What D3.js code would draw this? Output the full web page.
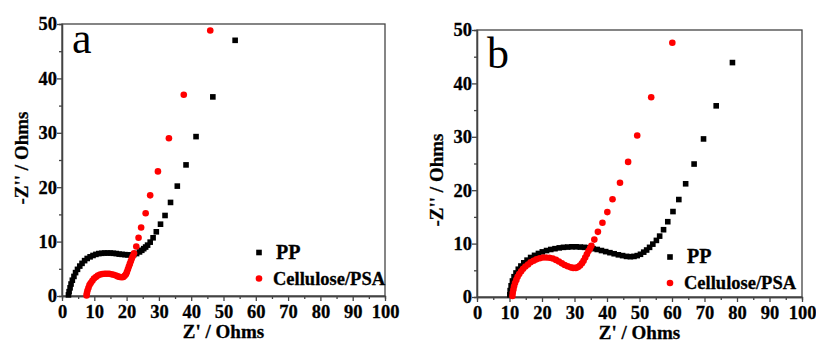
<!DOCTYPE html>
<html lang="en">
<head>
  <meta charset="UTF-8">
  <title>Nyquist plots</title>
  <style>
    html,
    body {
      margin: 0;
      background: #fff;
    }

    svg text {
      font-family: "Liberation Serif", "Times New Roman", serif;
    }

    svg text.b,
    .tick text {
      font-weight: bold;
      fill: #000;
      stroke: #000;
      stroke-width: 0.3px;
    }

    .tick text {
      font-size: 18.5px;
    }

    .axis path,
    .axis line {
      stroke: #444;
      stroke-width: 1.3px;
    }
  </style>
</head>
<body>
  <svg id="chart" width="816" height="342"></svg>

  <script src="https://cdn.jsdelivr.net/npm/d3@7/dist/d3.min.js"></script>
  <script>
    // data: [Z', -Z'']
    const ppA = [[2.0, 0.2], [2.2, 0.8], [2.5, 1.5], [2.8, 2.2], [3.2, 2.9], [3.7, 3.6], [4.2, 4.3], [4.8, 4.9],
      [5.5, 5.5], [6.2, 6.0], [7.0, 6.5], [7.8, 6.9], [8.7, 7.2], [9.6, 7.45], [10.5, 7.65], [11.4, 7.8],
      [12.3, 7.85], [13.2, 7.9], [14.1, 7.9], [15.0, 7.9], [15.9, 7.85], [16.8, 7.8], [17.7, 7.7], [18.6, 7.65],
      [19.5, 7.6], [20.4, 7.55], [21.3, 7.55], [22.2, 7.6], [23.1, 7.8], [24.0, 8.1], [24.7, 8.4], [25.3, 8.7],
      [25.9, 9.0], [26.5, 9.35], [27.3, 9.9], [28.2, 10.7], [29.2, 11.8], [30.5, 13.2], [31.9, 14.8], [33.6, 17.2],
      [35.7, 20.2], [38.4, 24.1], [41.5, 29.3], [46.7, 36.6], [53.6, 47.0]]

    const cellA = [[7.6, 0.1], [7.7, 0.5], [7.9, 1.0], [8.2, 1.5], [8.5, 2.0], [8.9, 2.4], [9.4, 2.8], [9.9, 3.2],
      [10.5, 3.5], [11.1, 3.75], [11.8, 3.95], [12.5, 4.05], [13.2, 4.1], [13.9, 4.1], [14.6, 4.1], [15.3, 4.0],
      [16.0, 3.9], [16.7, 3.75], [17.3, 3.6], [17.9, 3.5], [18.5, 3.45], [19.0, 3.5], [19.4, 3.7], [19.8, 4.0],
      [20.1, 4.4], [20.4, 4.9], [20.7, 5.4], [21.0, 5.9], [21.3, 6.4], [21.6, 6.9], [21.9, 7.3], [22.3, 7.85],
      [23.0, 9.1], [23.7, 10.7], [24.5, 12.6], [25.9, 15.2], [27.3, 18.5], [29.7, 22.9], [33.1, 29.0],
      [37.7, 37.0], [45.9, 48.8]]

    const ppB = [[10.1, 0.4], [10.2, 1.2], [10.5, 2.1], [10.9, 3.0], [11.4, 3.8], [12.0, 4.5], [12.7, 5.2],
      [13.5, 5.8], [14.4, 6.4], [15.4, 6.9], [16.5, 7.4], [17.7, 7.8], [18.9, 8.15], [20.1, 8.45], [21.4, 8.7],
      [22.7, 8.9], [24.0, 9.05], [25.3, 9.2], [26.6, 9.3], [27.9, 9.35], [29.2, 9.4], [30.5, 9.4], [31.8, 9.35],
      [33.1, 9.3], [34.4, 9.2], [35.7, 9.05], [37.0, 8.9], [38.3, 8.7], [39.6, 8.5], [40.9, 8.3], [42.2, 8.1],
      [43.5, 7.9], [44.8, 7.75], [46.0, 7.6], [47.2, 7.55], [48.3, 7.6], [49.3, 7.75], [50.3, 8.0], [51.3, 8.4],
      [52.2, 8.8], [53.1, 9.3], [54.1, 9.9], [55.2, 10.6], [56.2, 11.4], [57.4, 12.6], [58.7, 14.1], [60.3, 16.0],
      [62.1, 18.25], [64.2, 21.2], [66.8, 24.9], [69.7, 29.6], [73.6, 35.8], [78.6, 43.9]]

    const cellB = [[10.9, 0.2], [11.0, 0.8], [11.2, 1.4], [11.4, 2.0], [11.7, 2.6], [12.1, 3.2], [12.5, 3.8],
      [13.0, 4.3], [13.6, 4.8], [14.2, 5.3], [14.9, 5.7], [15.7, 6.1], [16.5, 6.5], [17.4, 6.8], [18.3, 7.05],
      [19.3, 7.25], [20.3, 7.4], [21.3, 7.4], [22.3, 7.35], [23.3, 7.2], [24.3, 6.95], [25.2, 6.65], [26.1, 6.3],
      [27.0, 6.0], [27.9, 5.75], [28.8, 5.55], [29.6, 5.45], [30.4, 5.45], [31.1, 5.6], [31.7, 5.9], [32.3, 6.3],
      [32.8, 6.8], [33.3, 7.4], [33.8, 8.0], [34.3, 8.6], [34.8, 9.1], [35.2, 9.6], [36.1, 10.75], [37.2, 12.2],
      [38.6, 13.9], [40.1, 15.9], [41.7, 18.3], [44.0, 21.4], [46.5, 25.3], [49.3, 30.25], [53.6, 37.4],
      [60.1, 47.6]]

    const xTicks = [0, 10, 20, 30, 40, 50, 60, 70, 80, 90, 100]
    const yTicks = [0, 10, 20, 30, 40, 50]
    const seriesNames = ['PP', 'Cellulose/PSA']

    const svg = d3.select('#chart')

    function drawPanel(p) {
      const x = d3.scaleLinear().domain([0, 100]).range([p.x0, p.x1])
      const y = d3.scaleLinear().domain([0, 50]).range([p.y0, p.y1])

      // minor ticks first
      svg.append('g').attr('class', 'axis')
        .attr('transform', `translate(0,${p.y0})`)
        .call(d3.axisBottom(x).tickValues(d3.range(5, 100, 10)).tickSize(3).tickFormat(''))
      svg.append('g').attr('class', 'axis')
        .attr('transform', `translate(${p.x0},0)`)
        .call(d3.axisLeft(y).tickValues(d3.range(5, 50, 10)).tickSize(3).tickFormat(''))

      const xa = svg.append('g').attr('class', 'axis')
        .attr('transform', `translate(0,${p.y0})`)
        .call(d3.axisBottom(x).tickValues(xTicks).tickSize(5).tickSizeOuter(0))
      xa.selectAll('text').attr('dy', '0.71em').attr('y', 9)

      const ya = svg.append('g').attr('class', 'axis')
        .attr('transform', `translate(${p.x0},0)`)
        .call(d3.axisLeft(y).tickValues(yTicks).tickSize(5).tickSizeOuter(0))
      ya.selectAll('text').attr('x', -5)

      // frame
      svg.append('rect')
        .attr('x', p.x0).attr('y', p.y1)
        .attr('width', p.x1 - p.x0).attr('height', p.y0 - p.y1)
        .attr('fill', 'none').attr('stroke', '#444').attr('stroke-width', 1.3)

      // squares
      svg.append('g').selectAll('rect')
        .data(p.pp)
        .join('rect')
        .attr('x', d => x(d[0]) - 2.8)
        .attr('y', d => y(d[1]) - 2.8)
        .attr('width', 5.6).attr('height', 5.6)
        .attr('fill', '#000')

      // circles
      svg.append('g').selectAll('circle')
        .data(p.cell)
        .join('circle')
        .attr('cx', d => x(d[0]))
        .attr('cy', d => y(d[1]))
        .attr('r', 3.3)
        .attr('fill', '#ff0000')

      // legend
      svg.append('rect').attr('x', p.lx - 2.8).attr('y', p.ly - 2.8)
        .attr('width', 5.6).attr('height', 5.6).attr('fill', '#000')
      svg.append('circle').attr('cx', p.lx).attr('cy', p.ly + 26).attr('r', 3.3).attr('fill', '#ff0000')
      svg.append('text').attr('class', 'b').attr('x', p.lx + 17).attr('y', p.ly + 6)
        .attr('font-size', 20).text(seriesNames[0])
      svg.append('text').attr('class', 'b').attr('x', p.lx + 14).attr('y', p.ly + 32)
        .attr('font-size', 18.5).text(seriesNames[1])

      // panel letter
      svg.append('text').attr('x', p.x0 + 10).attr('y', p.y1 + p.letterDy)
        .attr('font-size', 44).text(p.letter)

      // axis titles
      svg.append('text').attr('class', 'b')
        .attr('x', (p.x0 + p.x1) / 2).attr('y', p.y0 + 42)
        .attr('text-anchor', 'middle')
        .attr('font-size', 19)
        .text("Z' / Ohms")
      svg.append('text').attr('class', 'b')
        .attr('transform', `translate(${p.x0 - 34},${p.ylabY}) rotate(-90)`)
        .attr('text-anchor', 'middle')
        .attr('font-size', 19)
        .text("-Z'' / Ohms")
    }

    drawPanel({
      x0: 62, x1: 385, y0: 296, y1: 24,
      pp: ppA, cell: cellA, letter: 'a', letterDy: 29,
      lx: 259, ly: 252.5, ylabY: 158
    })

    drawPanel({
      x0: 477, x1: 802, y0: 297, y1: 30,
      pp: ppB, cell: cellB, letter: 'b', letterDy: 38,
      lx: 670, ly: 257, ylabY: 180
    })
  </script>
</body>
</html>
